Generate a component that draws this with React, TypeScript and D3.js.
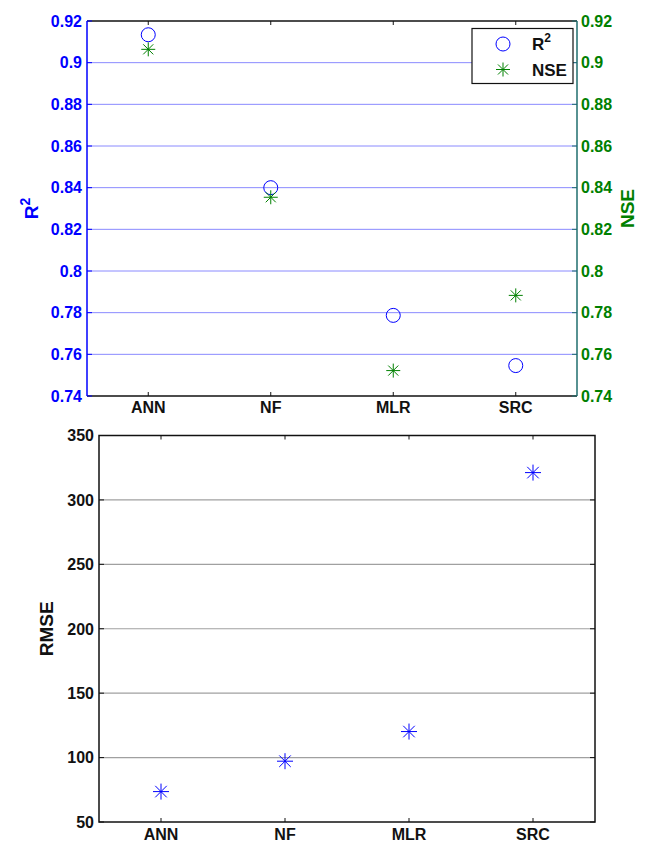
import React from 'react';
import * as d3 from 'd3';

// model names on the x axis
const models = ['ANN', 'NF', 'MLR', 'SRC'];

// upper panel: goodness of fit
const r2Values = [0.9134, 0.8400, 0.7787, 0.7546];
const nseValues = [0.9064, 0.8354, 0.7522, 0.7883];
const fitTicks = [0.74, 0.76, 0.78, 0.8, 0.82, 0.84, 0.86, 0.88, 0.9, 0.92];

// lower panel: error
const rmseValues = [73.6, 97.2, 120.2, 321.2];
const rmseTicks = [50, 100, 150, 200, 250, 300, 350];

const FONT = 'Arial, "Liberation Sans", Helvetica, sans-serif';
const BLUE = '#0000ff';
const GREEN = '#008000';
const TEAL = '#1f6e6e';

const Star = ({ x, y, r, color }: { x: number; y: number; r: number; color: string }) => {
  const d = r * 0.72;
  return (
    <g stroke={color} strokeWidth={1}>
      <line x1={x - r} y1={y} x2={x + r} y2={y} />
      <line x1={x} y1={y - r} x2={x} y2={y + r} />
      <line x1={x - d} y1={y - d} x2={x + d} y2={y + d} />
      <line x1={x - d} y1={y + d} x2={x + d} y2={y - d} />
    </g>
  );
};

const App = () => {
  const width = 645;
  const height = 843;

  // top panel frame
  const t = { left: 87, right: 577, top: 21, bottom: 396 };
  const xTop = d3.scaleLinear().domain([0.5, 4.5]).range([t.left, t.right]);
  const yTop = d3.scaleLinear().domain([0.74, 0.92]).range([t.bottom, t.top]);

  // bottom panel frame
  const b = { left: 99, right: 595, top: 435.5, bottom: 822 };
  const xBot = d3.scaleLinear().domain([0.5, 4.5]).range([b.left, b.right]);
  const yBot = d3.scaleLinear().domain([50, 350]).range([b.bottom, b.top]);

  const tickLen = 5;

  return (
    <svg width={width} height={height} style={{ position: 'absolute', left: 0, top: 0, background: '#fff' }}
      fontFamily={FONT}>
      {/* ---------- top panel ---------- */}
      <g>
        {fitTicks.filter(v => v > 0.74 && v < 0.92).map(v => (
          <line key={v} x1={t.left} x2={t.right} y1={yTop(v)} y2={yTop(v)} stroke="#8a8aff" strokeWidth={1} />
        ))}
        {/* frame */}
        <line x1={t.left} x2={t.right} y1={t.top} y2={t.top} stroke="#111" strokeWidth={1.5} />
        <line x1={t.left} x2={t.right} y1={t.bottom} y2={t.bottom} stroke="#111" strokeWidth={1.5} />
        <line x1={t.left} x2={t.left} y1={t.top} y2={t.bottom} stroke={BLUE} strokeWidth={1.5} />
        <line x1={t.right} x2={t.right} y1={t.top} y2={t.bottom} stroke={TEAL} strokeWidth={1.5} />

        {/* y ticks left */}
        {fitTicks.map(v => (
          <g key={'l' + v}>
            <line x1={t.left} x2={t.left + tickLen} y1={yTop(v)} y2={yTop(v)} stroke={BLUE} />
            <text x={t.left - 5} y={yTop(v)} dy="0.36em" textAnchor="end" fill={BLUE} fontSize={16}
              fontWeight="bold">{d3.format('~g')(v)}</text>
          </g>
        ))}
        {/* y ticks right */}
        {fitTicks.map(v => (
          <g key={'r' + v}>
            <line x1={t.right - tickLen} x2={t.right} y1={yTop(v)} y2={yTop(v)} stroke={TEAL} />
            <text x={t.right + 4} y={yTop(v)} dy="0.36em" textAnchor="start" fill={GREEN} fontSize={16}
              fontWeight="bold">{d3.format('~g')(v)}</text>
          </g>
        ))}
        {/* x ticks */}
        {models.map((m, i) => (
          <g key={m}>
            <line x1={xTop(i + 1)} x2={xTop(i + 1)} y1={t.bottom} y2={t.bottom - 4} stroke="#111" />
            <line x1={xTop(i + 1)} x2={xTop(i + 1)} y1={t.top} y2={t.top + 4} stroke="#111" />
            <text x={xTop(i + 1)} y={t.bottom + 17} textAnchor="middle" fontSize={16} fontWeight="bold"
              fill="#111">{m}</text>
          </g>
        ))}

        {/* axis titles */}
        <text transform={`translate(38,${(t.top + t.bottom) / 2}) rotate(-90)`} textAnchor="middle"
          fill={BLUE} fontSize={19} fontWeight="bold">
          R<tspan dy={-8} fontSize={14}>2</tspan>
        </text>
        <text transform={`translate(634,${(t.top + t.bottom) / 2}) rotate(-90)`} textAnchor="middle"
          fill={GREEN} fontSize={19} fontWeight="bold">NSE</text>

        {/* markers */}
        {r2Values.map((v, i) => (
          <circle key={'c' + i} cx={xTop(i + 1)} cy={yTop(v)} r={7} fill="none" stroke={BLUE} strokeWidth={1} />
        ))}
        {nseValues.map((v, i) => (
          <Star key={'s' + i} x={xTop(i + 1)} y={yTop(v)} r={7} color={GREEN} />
        ))}

        {/* legend */}
        <g>
          <rect x={472} y={28.5} width={101} height={55} fill="#fff" stroke="#111" strokeWidth={1.2} />
          <circle cx={503} cy={44} r={7} fill="none" stroke={BLUE} strokeWidth={1} />
          <Star x={503} y={69.5} r={7} color={GREEN} />
          <text x={532} y={50} fontSize={17} fontWeight="bold" fill="#111">
            R<tspan dy={-8} fontSize={12}>2</tspan>
          </text>
          <text x={532} y={75.5} fontSize={17} fontWeight="bold" fill="#111">NSE</text>
        </g>
      </g>

      {/* ---------- bottom panel ---------- */}
      <g>
        {rmseTicks.filter(v => v > 50 && v < 350).map(v => (
          <line key={v} x1={b.left} x2={b.right} y1={yBot(v)} y2={yBot(v)} stroke="#a0a0a0" strokeWidth={1.2} />
        ))}
        <rect x={b.left} y={b.top} width={b.right - b.left} height={b.bottom - b.top} fill="none"
          stroke="#111" strokeWidth={1.5} />
        {rmseTicks.map(v => (
          <g key={'b' + v}>
            <line x1={b.left} x2={b.left + tickLen} y1={yBot(v)} y2={yBot(v)} stroke="#111" />
            <line x1={b.right - tickLen} x2={b.right} y1={yBot(v)} y2={yBot(v)} stroke="#111" />
            <text x={b.left - 5} y={yBot(v)} dy="0.36em" textAnchor="end" fontSize={16} fontWeight="bold"
              fill="#111">{v}</text>
          </g>
        ))}
        {models.map((m, i) => (
          <g key={'bx' + m}>
            <line x1={xBot(i + 1)} x2={xBot(i + 1)} y1={b.bottom} y2={b.bottom - 4} stroke="#111" />
            <line x1={xBot(i + 1)} x2={xBot(i + 1)} y1={b.top} y2={b.top + 4} stroke="#111" />
            <text x={xBot(i + 1)} y={b.bottom + 18} textAnchor="middle" fontSize={16} fontWeight="bold"
              fill="#111">{m}</text>
          </g>
        ))}
        <text transform={`translate(53,${(b.top + b.bottom) / 2}) rotate(-90)`} textAnchor="middle"
          fill="#111" fontSize={19} fontWeight="bold">RMSE</text>
        {rmseValues.map((v, i) => (
          <Star key={'rm' + i} x={xBot(i + 1)} y={yBot(v)} r={8} color={BLUE} />
        ))}
      </g>
    </svg>
  );
};

export default App;
